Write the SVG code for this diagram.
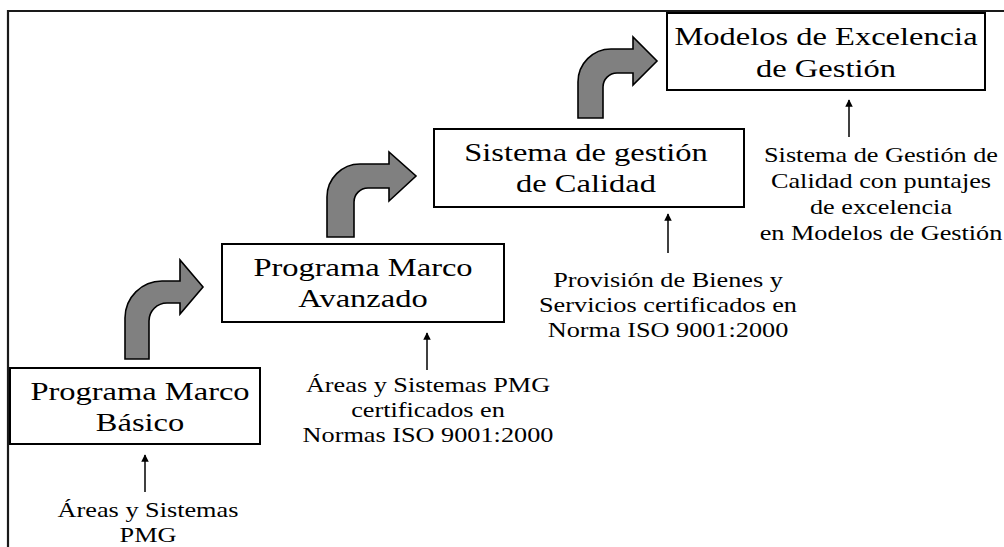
<svg xmlns="http://www.w3.org/2000/svg" width="1004" height="547" viewBox="0 0 1004 547">
<defs>
<style>
.frame{fill:none;stroke:#1a1a1a;stroke-width:2.2}
.box{fill:#fff;stroke:#000;stroke-width:2}
.t{font-family:"Liberation Serif","Times New Roman",serif;font-size:26px;text-anchor:middle;fill:#000}
.l{font-family:"Liberation Serif","Times New Roman",serif;font-size:21px;text-anchor:middle;fill:#000}
.bend{fill:#808080;stroke:#000;stroke-width:1.6;stroke-linejoin:miter}
.conn{fill:none;stroke:#000;stroke-width:1.5;marker-end:url(#ah)}
</style>
<marker id="ah" viewBox="0 0 10 10" refX="9" refY="5" markerWidth="5" markerHeight="5" orient="auto" markerUnits="strokeWidth">
<path d="M0,0 L10,5 L0,10 Z" fill="#000"/>
</marker>
</defs>
<rect width="1004" height="547" fill="#fff"/>
<polyline class="frame" points="8,547 8,11 1004,11"/>

<g id="connectors">
<path class="bend" d="M125,359 L125,318 A37,37 0 0 1 162,281 L180,281 L180,260 L203,287 L180,314 L180,303 L167,303 A18,18 0 0 0 149,321 L149,359 Z"/>
<path class="bend" d="M327,237 L327,197 A33,33 0 0 1 360,164 L389,164 L389,152 L416,176 L389,201 L389,188 L368,188 A14,14 0 0 0 354,202 L354,237 Z"/>
<path class="bend" d="M578,118 L578,82 A33,33 0 0 1 611,49 L633,49 L633,37 L657,61 L633,85 L633,73 L617,73 A14,14 0 0 0 603,87 L603,118 Z"/>
<line class="conn" x1="145" y1="492" x2="145" y2="455"/>
<line class="conn" x1="427" y1="370" x2="427" y2="333"/>
<line class="conn" x1="668" y1="253" x2="668" y2="214"/>
<line class="conn" x1="849" y1="137" x2="849" y2="100"/>
</g>

<g id="node-basico">
<rect class="box" x="10" y="368" width="250" height="76"/>
<text class="t" transform="translate(140,0) scale(1.25,1)"><tspan x="0" y="400">Programa Marco</tspan><tspan x="0" y="431">Básico</tspan></text>
</g>
<g id="label-basico">
<text class="l" transform="translate(148,0) scale(1.25,1)"><tspan x="0" y="517">Áreas y Sistemas</tspan><tspan x="0" y="542">PMG</tspan></text>
</g>

<g id="node-avanzado">
<rect class="box" x="222" y="244" width="282" height="78"/>
<text class="t" transform="translate(363,0) scale(1.25,1)"><tspan x="0" y="276">Programa Marco</tspan><tspan x="0" y="307">Avanzado</tspan></text>
</g>
<g id="label-avanzado">
<text class="l" transform="translate(428,0) scale(1.25,1)"><tspan x="0" y="392">Áreas y Sistemas PMG</tspan><tspan x="0" y="417">certificados en</tspan><tspan x="0" y="442">Normas ISO 9001:2000</tspan></text>
</g>

<g id="node-calidad">
<rect class="box" x="434" y="129" width="310" height="78"/>
<text class="t" transform="translate(586,0) scale(1.25,1)"><tspan x="0" y="161">Sistema de gestión</tspan><tspan x="0" y="192">de Calidad</tspan></text>
</g>
<g id="label-calidad">
<text class="l" transform="translate(668,0) scale(1.25,1)"><tspan x="0" y="287">Provisión de Bienes y</tspan><tspan x="0" y="312">Servicios certificados en</tspan><tspan x="0" y="337">Norma ISO 9001:2000</tspan></text>
</g>

<g id="node-excelencia">
<rect class="box" x="667" y="13" width="318" height="77"/>
<text class="t" transform="translate(826,0) scale(1.25,1)"><tspan x="0" y="45">Modelos de Excelencia</tspan><tspan x="0" y="77">de Gestión</tspan></text>
</g>
<g id="label-excelencia">
<text class="l" transform="translate(881,0) scale(1.25,1)"><tspan x="0" y="162">Sistema de Gestión de</tspan><tspan x="0" y="188">Calidad con puntajes</tspan><tspan x="0" y="214">de excelencia</tspan><tspan x="0" y="240">en Modelos de Gestión</tspan></text>
</g>
</svg>
